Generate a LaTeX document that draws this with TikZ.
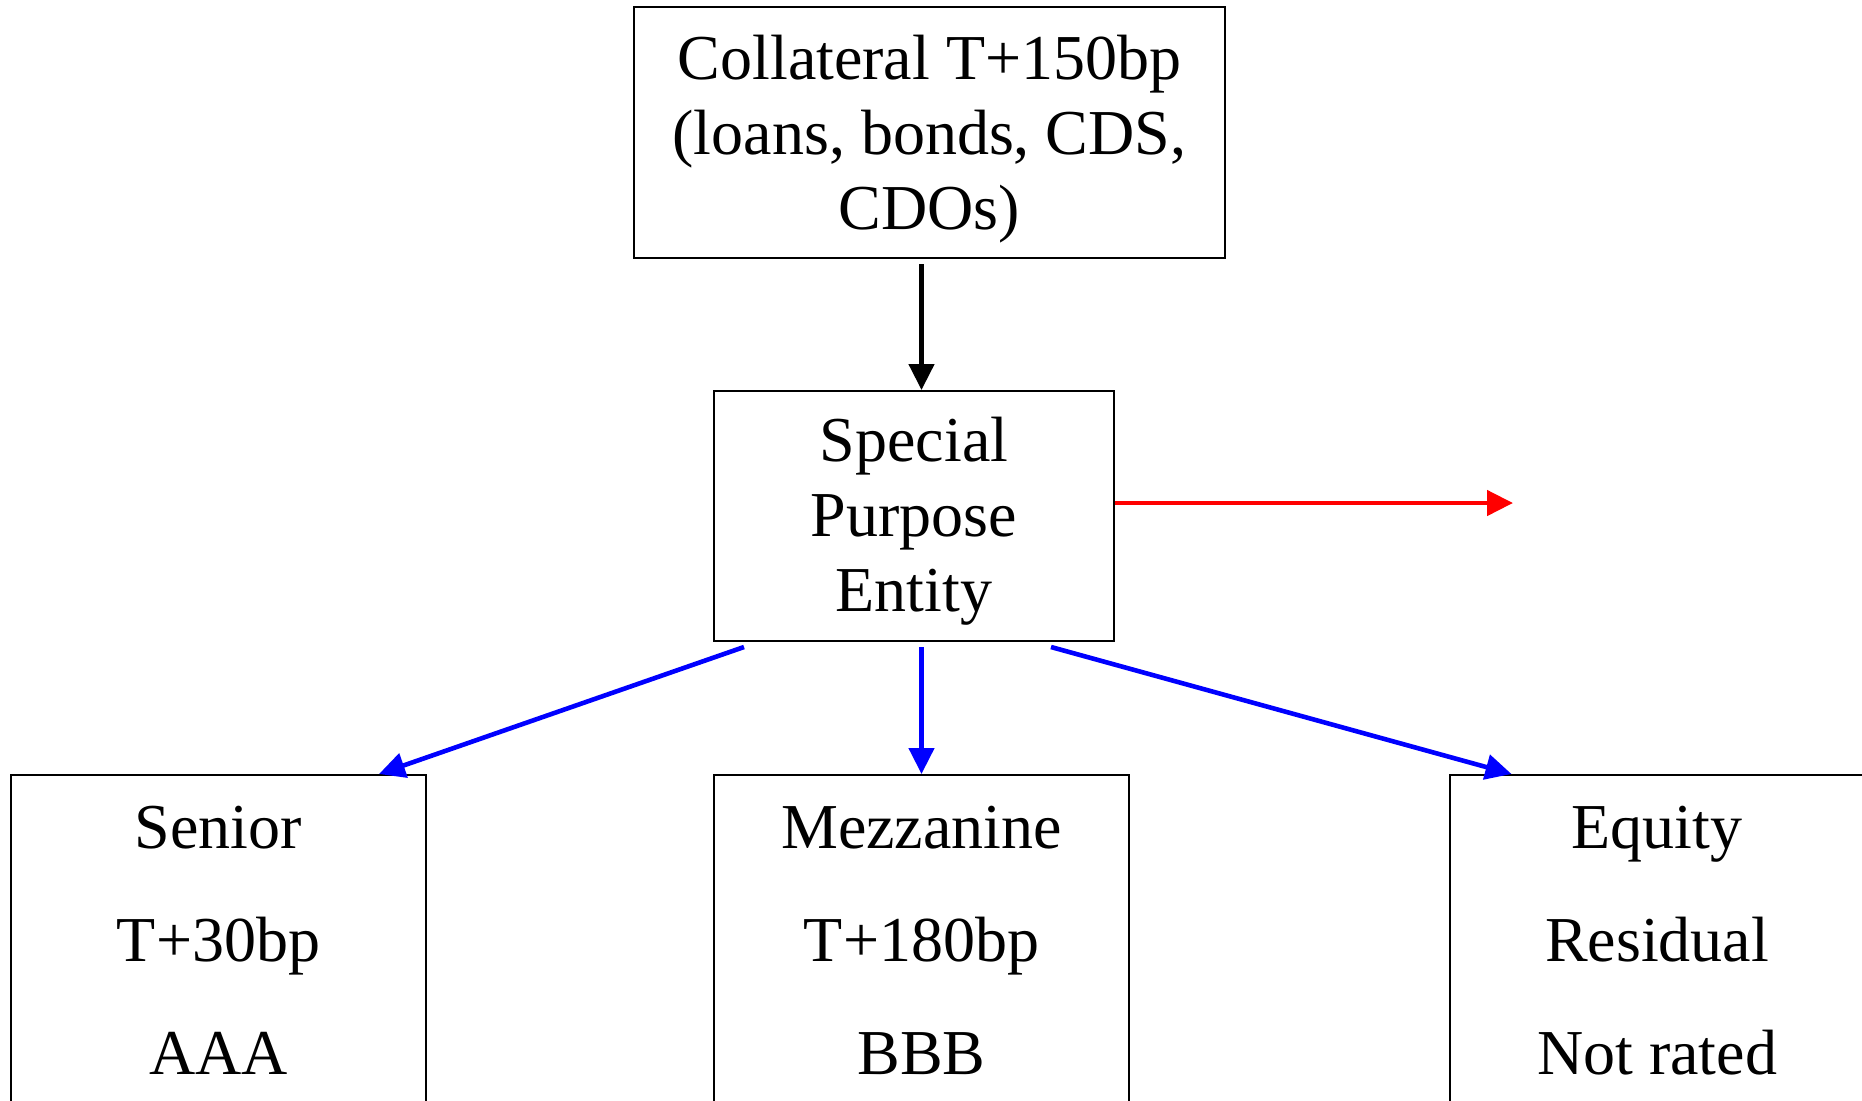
\documentclass[tikz,border=0pt]{standalone}
\usepackage{fontspec}
\setmainfont{Liberation Serif}
\usetikzlibrary{arrows.meta}
\begin{document}
\begin{tikzpicture}[x=0.5pt,y=-0.5pt,
  box/.style={draw=black, line width=1pt, rectangle, inner sep=0pt, align=center,
    font=\fontsize{32}{37.5}\selectfont},
  tranche/.style={draw=black, line width=1pt, rectangle, anchor=north, inner xsep=0pt,
    inner ysep=15.5pt, minimum width=207.5pt, align=center, text depth=200pt,
    font=\fontsize{32}{56.5}\selectfont},
  flow/.style={line width=2.3pt, -{Triangle[length=13pt,width=12.5pt]}},
]
\useasboundingbox (0,0) rectangle (1862,1100);
\clip (0,0) rectangle (1862,1100);

\node[box, minimum width=295.5pt, minimum height=125.5pt] (coll) at (929.5,132.5)
  {\rule{0pt}{29pt}Collateral T+150bp\\(loans, bonds, CDS,\\CDOs)};
\node[box, minimum width=200pt, minimum height=125pt] (spe) at (914,516)
  {\rule{0pt}{27.5pt}Special\\Purpose\\Entity};

\node[tranche] (senior) at (218.5,774) {Senior\\T+30bp\\AAA};
\node[tranche] (mezz) at (921.5,774) {Mezzanine\\T+180bp\\BBB};
\node[tranche] (equity) at (1657,774) {Equity\\Residual\\Not rated};

\coordinate (collout) at ([yshift=-2.5pt]coll.south);
\coordinate (speout) at ([yshift=-2.5pt]spe.south);
\coordinate (redend) at (1513,503);

\draw[flow, black] (collout -| mezz.north) -- (spe.north -| mezz.north);
\draw[flow, red] (spe.east |- redend) -- (redend);

\draw[flow, blue] ([xshift=15.5pt,yshift=-2.5pt]spe.south west) -- ([xshift=-24pt]senior.north east);
\draw[flow, blue] (speout -| mezz.north) -- (mezz.north);
\draw[flow, blue] ([xshift=-32pt,yshift=-2.5pt]spe.south east) -- ([xshift=31.5pt]equity.north west);
\end{tikzpicture}
\end{document}
